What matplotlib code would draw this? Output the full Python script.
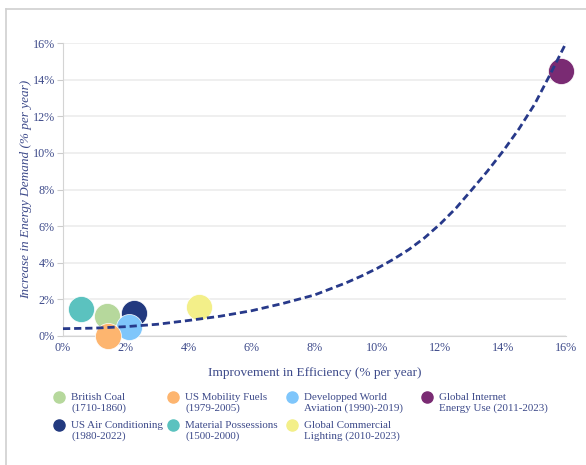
import matplotlib.pyplot as plt
from matplotlib.lines import Line2D

# points (% per year)
names = ['British Coal\n(1710-1860)', 'US Air Conditioning\n(1980-2022)',
         'US Mobility Fuels\n(1979-2005)', 'Material Possessions\n(1500-2000)',
         'Developped World\nAviation (1990)-2019)', 'Global Commercial\nLighting (2010-2023)',
         'Global Internet\nEnergy Use (2011-2023)']
eff = [1.40, 2.26, 1.43, 0.57, 2.10, 4.32, 15.83]
demand = [1.11, 1.24, 0.02, 1.48, 0.51, 1.60, 14.48]
colors = ['#b6d89c', '#22397f', '#fdb56f', '#5bc2bf', '#7fc6fb', '#f3ef89', '#7a2b73']

# dashed trend line
trend_x = [0, 1, 2, 3, 4, 5, 6, 7, 8, 9, 9.5, 10, 10.5, 11, 11.5, 12, 12.5, 13, 13.5,
           14, 14.5, 15, 15.5, 16]
trend_y = [0.40, 0.43, 0.51, 0.64, 0.85, 1.08, 1.38, 1.78, 2.24, 2.90, 3.28, 3.70, 4.18,
           4.72, 5.36, 6.12, 6.98, 7.98, 9.0, 10.1, 11.3, 12.65, 14.3, 16.0]

txt = '#3d4a8a'
plt.rcParams['font.family'] = ['Liberation Serif', 'DejaVu Serif']

W, H = 586, 465
fig = plt.figure(figsize=(W / 100, H / 100), dpi=100)
ax = fig.add_axes([63 / W, 1 - 336 / H, 503 / W, 293 / H])

# draw order so overlaps look like the original
order = [3, 0, 1, 4, 2, 5, 6]
for i in order:
    ax.scatter(eff[i], demand[i], s=350, color=colors[i], edgecolors='white',
               linewidths=0.5, zorder=3, clip_on=False)

ax.plot(trend_x, trend_y, ls=(0, (2.6, 1.4)), color='#27398a', lw=2.0, zorder=4,
        clip_on=False)

ax.set_xlim(0, 16)
ax.set_ylim(0, 16)
ax.set_xticks(range(0, 17, 2))
ax.set_yticks(range(0, 17, 2))
ax.set_xticklabels([f'{v}%' for v in range(0, 17, 2)])
ax.set_yticklabels([f'{v}%' for v in range(0, 17, 2)])
ax.tick_params(colors='#cccccc', labelcolor=txt, labelsize=8.7, length=4, width=0.8, pad=2)
ax.tick_params(axis='x', length=0, pad=4)
ax.grid(axis='y', color='#ececec', lw=1.2)
ax.set_axisbelow(True)
for s in ['top', 'right']:
    ax.spines[s].set_visible(False)
for s in ['left', 'bottom']:
    ax.spines[s].set_color('#d4d4d4')

ax.set_xlabel('Improvement in Efficiency (% per year)', color=txt, fontsize=9.5, labelpad=10)
ax.set_ylabel('Increase in Energy Demand (% per year)', color=txt, fontsize=9.5,
              style='italic')
ax.yaxis.set_label_coords(-31 / 503, 0.5)

# legend, laid out by hand in 4 columns x 2 rows
col_x = [59, 173, 292, 427]
row_y = [397, 425]
for k, (name, c) in enumerate(zip(names, colors)):
    cx, ry = col_x[k // 2], row_y[k % 2]
    fig.add_artist(Line2D([cx / W], [1 - ry / H], ls='', marker='o', ms=8,
                          color=c, transform=fig.transFigure))
    fig.text((cx + 12) / W, 1 - (ry + 5.8) / H, name, color=txt, fontsize=7.9,
             va='center', ha='left', linespacing=1.12)

# light frame at the left and top
fig.add_artist(Line2D([6 / W, 6 / W], [0, 1 - 9 / H], color='#d0d0d0', lw=1.2))
fig.add_artist(Line2D([6 / W, 1], [1 - 9 / H, 1 - 9 / H], color='#d0d0d0', lw=1.2))

fig.savefig('out.png', dpi=100)
